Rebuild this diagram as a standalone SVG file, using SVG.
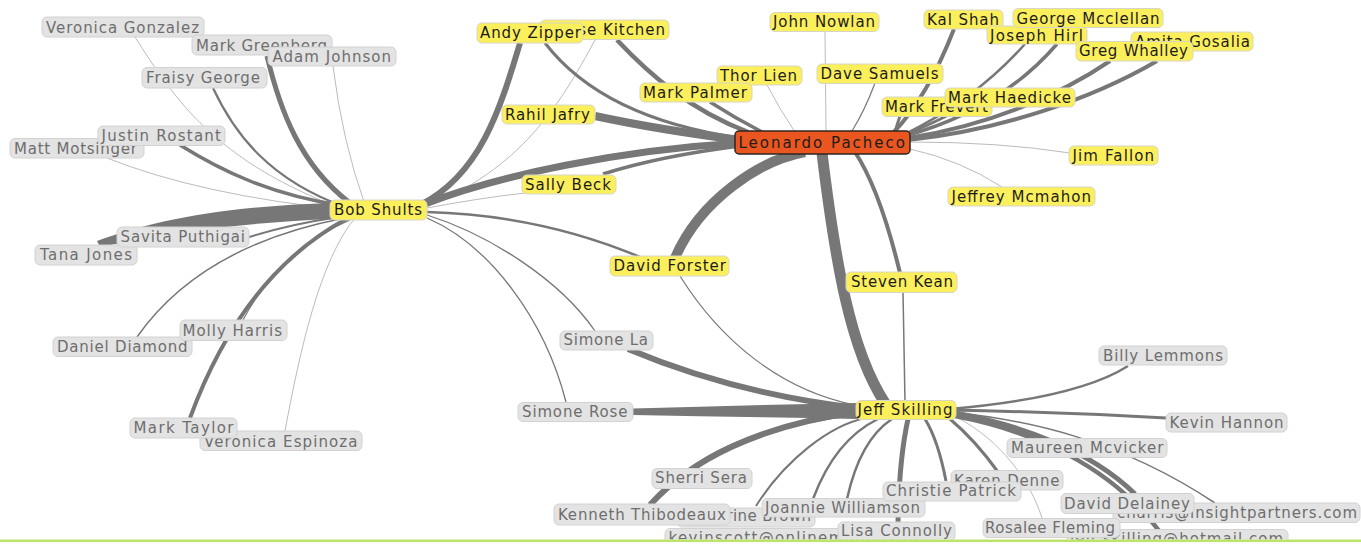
<svg xmlns="http://www.w3.org/2000/svg" width="1361" height="544" viewBox="0 0 1361 544">
<defs>
<clipPath id="cv"><rect x="0" y="0" width="1361" height="539.5"/></clipPath>
<style>
.e{fill:none;stroke:#777;stroke-linecap:butt}
.th{fill:none;stroke:#aaa;stroke-width:0.8}
.w{fill:#777;stroke:none}
.y{fill:#fcef5c;stroke:#d6d6c8;stroke-width:1}
.g{fill:#e3e3e3;stroke:#d2d2d2;stroke-width:1}
.o{fill:#e9561f;stroke:#2e2620;stroke-width:1.5}
text{font-family:"DejaVu Sans","Liberation Sans",sans-serif;font-size:15px}
.ty{fill:#1c1c1c}
.tg{fill:#6e6e6e}
</style>
</defs>
<rect x="0" y="0" width="1361" height="544" fill="#ffffff"/>
<g clip-path="url(#cv)">
<g id="connectors">
<!-- Bob Shults left side -->
<path class="th" d="M135,37 C175,100 215,160 340,208"/>
<path class="e" stroke-width="2.2" d="M213,88 C235,135 270,180 345,207"/>
<path class="e" stroke-width="5" d="M267,56 C280,110 300,165 350,203"/>
<path class="th" d="M333,66 Q342,140 365,205"/>
<path class="e" stroke-width="3.5" d="M180,145 C220,170 270,195 345,206"/>
<path class="th" d="M107,158 Q200,195 345,210"/>
<path class="w" d="M97,241 C150,222 220,206 335,203 L335,219 C250,222 170,232 100,247 Z"/>
<path class="e" stroke-width="2" d="M246,238 Q290,224 340,217"/>
<path class="e" stroke-width="1.5" d="M137,337 C170,290 230,240 345,218"/>
<path class="e" stroke-width="4" d="M190,418 C215,350 260,265 348,218"/>
<path class="e" stroke-width="1.2" stroke="#999" d="M243,320 Q280,250 352,219"/>
<path class="th" d="M285,431 C300,350 320,260 355,218"/>
<!-- Bob Shults right side -->
<path class="e" stroke-width="6" d="M520,43 C500,110 480,175 420,205"/>
<path class="th" d="M595,40 C560,105 520,170 425,207"/>
<path class="e" stroke-width="7" d="M425,204 C500,175 620,150 740,143"/>
<path class="th" d="M427,208 Q480,198 525,193"/>
<path class="e" stroke-width="2.5" d="M427,212 Q540,215 640,257"/>
<path class="e" stroke-width="1.3" d="M427,215 C490,235 560,280 595,331"/>
<path class="e" stroke-width="1.3" d="M427,218 C490,245 545,320 566,402"/>
<!-- Leonardo Pacheco -->
<path class="e" stroke-width="8" d="M595,116 Q660,130 740,140"/>
<path class="e" stroke-width="3.5" d="M603,174 Q660,156 740,146"/>
<path class="e" stroke-width="3" d="M545,43 C585,95 650,125 740,138"/>
<path class="e" stroke-width="4.5" d="M617,40 C650,75 690,110 748,132"/>
<path class="e" stroke-width="3.5" d="M710,102 Q735,118 762,132"/>
<path class="th" d="M767,85 Q780,110 795,132"/>
<path class="th" d="M825,32 L826,131"/>
<path class="e" stroke-width="1.2" d="M875,83 Q865,110 852,131"/>
<path class="e" stroke-width="4" d="M954,29 C940,65 920,105 893,133"/>
<path class="e" stroke-width="2.5" d="M1025,44 Q975,100 905,134"/>
<path class="e" stroke-width="3.5" d="M1057,44 Q1000,110 905,136"/>
<path class="e" stroke-width="4" d="M1110,61 C1060,95 990,125 908,138"/>
<path class="e" stroke-width="4" d="M1157,61 C1090,100 1000,130 908,140"/>
<path class="e" stroke-width="3" d="M965,107 Q935,122 906,135"/>
<path class="e" stroke-width="3" d="M900,116 Q897,125 895,132"/>
<path class="th" d="M1070,153 Q1000,142 910,142"/>
<path class="th" d="M1002,187 Q960,160 910,149"/>
<path class="e" stroke-width="10" d="M805,152 C760,160 700,200 675,258"/>
<path class="e" stroke-width="11" d="M822,153 C835,260 850,350 885,403"/>
<path class="e" stroke-width="4" d="M855,152 Q880,190 900,273"/>
<path class="e" stroke-width="1.5" d="M903,292 L905,402"/>
<!-- Jeff Skilling -->
<path class="e" stroke-width="1.2" d="M680,276 C720,340 780,390 855,405"/>
<path class="e" stroke-width="6" d="M628,349 C690,375 770,398 858,408"/>
<path class="w" d="M633,408.5 Q750,405 858,403 L858,419 Q750,417 633,415 Z"/>
<path class="e" stroke-width="6" d="M650,505 C690,460 760,425 858,412"/>
<path class="e" stroke-width="3" d="M690,470 C720,445 780,423 858,414"/>
<path class="e" stroke-width="2" d="M756,506 C785,460 830,425 866,418"/>
<path class="e" stroke-width="2.5" d="M813,499 Q835,440 878,419"/>
<path class="e" stroke-width="2.5" d="M847,499 Q860,440 892,419"/>
<path class="e" stroke-width="5" d="M908,419 Q899,460 898,523"/>
<path class="e" stroke-width="3" d="M946,481 Q938,440 925,419"/>
<path class="e" stroke-width="3" d="M998,472 Q975,440 950,419"/>
<path class="th" d="M958,418 C1000,440 1030,480 1042,518"/>
<path class="e" stroke-width="2.5" d="M1128,366 C1090,390 1020,403 950,409"/>
<path class="e" stroke-width="3" d="M950,410 Q1060,412 1166,418"/>
<path class="e" stroke-width="1.5" d="M950,412 C1030,420 1120,440 1215,503"/>
<path class="e" stroke-width="5" d="M955,413 C1020,425 1090,450 1135,494"/>
<path class="e" stroke-width="4.5" d="M955,416 C1030,430 1110,465 1160,532"/>
</g>
<g id="n-matt-motsinger"><rect class="g" x="10" y="138.5" width="134" height="19.5" rx="5"/><text class="tg" x="14" y="154" textLength="123">Matt Motsinger</text></g>
<g id="n-justin-rostant"><rect class="g" x="98" y="126" width="127" height="19.5" rx="5"/><text class="tg" x="101.5" y="141" textLength="119.5">Justin Rostant</text></g>
<g id="n-veronica-gonzalez"><rect class="g" x="42" y="17" width="162" height="20" rx="5"/><text class="tg" x="46" y="33" textLength="153">Veronica Gonzalez</text></g>
<g id="n-mark-greenberg"><rect class="g" x="192" y="35" width="140" height="20" rx="5"/><text class="tg" x="196" y="51" textLength="131">Mark Greenberg</text></g>
<g id="n-adam-johnson"><rect class="g" x="268" y="47" width="128" height="19" rx="5"/><text class="tg" x="272.5" y="61.5" textLength="118.5">Adam Johnson</text></g>
<g id="n-fraisy-george"><rect class="g" x="142" y="67.5" width="125" height="20.5" rx="5"/><text class="tg" x="146" y="83" textLength="114">Fraisy George</text></g>
<g id="n-tana-jones"><rect class="g" x="35" y="245" width="102" height="20" rx="5"/><text class="tg" x="40" y="260" textLength="92">Tana Jones</text></g>
<g id="n-savita-puthigai"><rect class="g" x="117" y="227" width="132" height="20" rx="5"/><text class="tg" x="120.5" y="242" textLength="124.5">Savita Puthigai</text></g>
<g id="n-daniel-diamond"><rect class="g" x="53" y="337" width="139" height="19.5" rx="5"/><text class="tg" x="57" y="352" textLength="130.5">Daniel Diamond</text></g>
<g id="n-molly-harris"><rect class="g" x="180" y="320" width="107" height="20.5" rx="5"/><text class="tg" x="182.5" y="335.5" textLength="99.5">Molly Harris</text></g>
<g id="n-veronica-espinoza"><rect class="g" x="200" y="431" width="162" height="19.5" rx="5"/><text class="tg" x="204" y="446.5" textLength="153.5">Veronica Espinoza</text></g>
<g id="n-mark-taylor"><rect class="g" x="130" y="418" width="107" height="20" rx="5"/><text class="tg" x="133.5" y="433" textLength="100">Mark Taylor</text></g>
<g id="n-bob-shults"><rect class="y" x="330" y="200" width="97" height="20" rx="5"/><text class="ty" x="334" y="215" textLength="88">Bob Shults</text></g>
<g id="n-louise-kitchen"><rect class="y" x="540" y="20" width="129" height="19.5" rx="5"/><text class="ty" x="543.5" y="35" textLength="121.5">Louise Kitchen</text></g>
<g id="n-andy-zipper"><rect class="y" x="477" y="23" width="106" height="20" rx="5"/><text class="ty" x="480" y="38" textLength="101">Andy Zipper</text></g>
<g id="n-rahil-jafry"><rect class="y" x="502" y="105" width="93" height="19" rx="5"/><text class="ty" x="505" y="120" textLength="85">Rahil Jafry</text></g>
<g id="n-sally-beck"><rect class="y" x="522" y="175" width="94" height="19" rx="5"/><text class="ty" x="525" y="190" textLength="86">Sally Beck</text></g>
<g id="n-thor-lien"><rect class="y" x="717" y="66" width="85" height="19" rx="5"/><text class="ty" x="720" y="80.5" textLength="77">Thor Lien</text></g>
<g id="n-mark-palmer"><rect class="y" x="640" y="83" width="112" height="19" rx="5"/><text class="ty" x="643" y="97.5" textLength="104">Mark Palmer</text></g>
<g id="n-john-nowlan"><rect class="y" x="770" y="12.5" width="109" height="19" rx="5"/><text class="ty" x="773" y="27" textLength="102">John Nowlan</text></g>
<g id="n-dave-samuels"><rect class="y" x="817" y="64" width="126" height="19.5" rx="5"/><text class="ty" x="820.5" y="79" textLength="118">Dave Samuels</text></g>
<g id="n-kal-shah"><rect class="y" x="924" y="10" width="79" height="19" rx="5"/><text class="ty" x="927" y="25" textLength="72">Kal Shah</text></g>
<g id="n-joseph-hirl"><rect class="y" x="987" y="26" width="100" height="18" rx="5"/><text class="ty" x="990" y="40.5" textLength="93">Joseph Hirl</text></g>
<g id="n-george-mcclellan"><rect class="y" x="1013" y="8.5" width="150" height="19" rx="5"/><text class="ty" x="1016.5" y="24" textLength="143">George Mcclellan</text></g>
<g id="n-amita-gosalia"><rect class="y" x="1131" y="32" width="122" height="19" rx="5"/><text class="ty" x="1135" y="46.5" textLength="115">Amita Gosalia</text></g>
<g id="n-greg-whalley"><rect class="y" x="1076" y="41.5" width="117" height="19.5" rx="5"/><text class="ty" x="1079" y="56" textLength="109">Greg Whalley</text></g>
<g id="n-mark-frevert"><rect class="y" x="882" y="97" width="110" height="19.5" rx="5"/><text class="ty" x="885" y="111.5" textLength="103">Mark Frevert</text></g>
<g id="n-mark-haedicke"><rect class="y" x="945" y="88" width="130" height="19" rx="5"/><text class="ty" x="948" y="102.5" textLength="123">Mark Haedicke</text></g>
<g id="n-leonardo-pacheco"><rect class="o" x="735" y="131" width="175" height="23" rx="4"/><text class="ty" x="738.5" y="148" textLength="166.5">Leonardo Pacheco</text></g>
<g id="n-jim-fallon"><rect class="y" x="1069" y="146" width="89" height="19" rx="5"/><text class="ty" x="1072.5" y="160.5" textLength="81.5">Jim Fallon</text></g>
<g id="n-jeffrey-mcmahon"><rect class="y" x="948" y="187" width="147" height="19" rx="5"/><text class="ty" x="951.5" y="201.5" textLength="139.5">Jeffrey Mcmahon</text></g>
<g id="n-david-forster"><rect class="y" x="610" y="256" width="119" height="20" rx="5"/><text class="ty" x="613.5" y="270.5" textLength="112.5">David Forster</text></g>
<g id="n-steven-kean"><rect class="y" x="846" y="272" width="111" height="20.5" rx="5"/><text class="ty" x="851" y="287" textLength="102">Steven Kean</text></g>
<g id="n-simone-la"><rect class="g" x="560" y="331" width="93" height="19" rx="5"/><text class="tg" x="563.5" y="345" textLength="84.5">Simone La</text></g>
<g id="n-simone-rose"><rect class="g" x="518" y="402.5" width="115" height="19" rx="5"/><text class="tg" x="522" y="416.5" textLength="105.5">Simone Rose</text></g>
<g id="n-jeff-skilling"><rect class="y" x="856" y="400.5" width="100" height="19" rx="5"/><text class="ty" x="857.5" y="415" textLength="95">Jeff Skilling</text></g>
<g id="n-sherri-sera"><rect class="g" x="652" y="468.5" width="100" height="20" rx="5"/><text class="tg" x="655" y="483" textLength="92">Sherri Sera</text></g>
<g id="n-katherine-brown"><rect class="g" x="677" y="508" width="138" height="19" rx="5"/><text class="tg" x="681" y="521" textLength="130">Katherine Brown</text></g>
<g id="n-kenneth-thibodeaux"><rect class="g" x="554" y="504" width="176" height="21" rx="5"/><text class="tg" x="558" y="520" textLength="168">Kenneth Thibodeaux</text></g>
<g id="n-joannie-williamson"><rect class="g" x="762" y="498.5" width="163" height="18.5" rx="5"/><text class="tg" x="765" y="512.5" textLength="155">Joannie Williamson</text></g>
<g id="n-kevinscott"><rect class="g" x="665" y="528.5" width="270" height="19.5" rx="5"/><text class="tg" x="668.5" y="542.5" textLength="262">kevinscott@onlinemailbox.net</text></g>
<g id="n-lisa-connolly"><rect class="g" x="838" y="522" width="117" height="19" rx="5"/><text class="tg" x="841" y="536" textLength="111">Lisa Connolly</text></g>
<g id="n-karen-denne"><rect class="g" x="951" y="470.5" width="112" height="19.5" rx="5"/><text class="tg" x="954" y="486" textLength="105.5">Karen Denne</text></g>
<g id="n-christie-patrick"><rect class="g" x="883" y="482" width="138" height="19" rx="5"/><text class="tg" x="886" y="496" textLength="130">Christie Patrick</text></g>
<g id="n-maureen-mcvicker"><rect class="g" x="1007" y="438.5" width="160" height="19" rx="5"/><text class="tg" x="1011" y="453" textLength="152.5">Maureen Mcvicker</text></g>
<g id="n-billy-lemmons"><rect class="g" x="1099" y="346" width="128" height="19" rx="5"/><text class="tg" x="1103" y="361" textLength="120">Billy Lemmons</text></g>
<g id="n-kevin-hannon"><rect class="g" x="1166" y="413" width="121" height="19" rx="5"/><text class="tg" x="1169.5" y="427.5" textLength="114">Kevin Hannon</text></g>
<g id="n-charris"><rect class="g" x="1113" y="503" width="247" height="19.5" rx="5"/><text class="tg" x="1117" y="518" textLength="240">charris@insightpartners.com</text></g>
<g id="n-david-delainey"><rect class="g" x="1061" y="493.5" width="133" height="20" rx="5"/><text class="tg" x="1064" y="509" textLength="126">David Delainey</text></g>
<g id="n-jeff-skilling-hotmail"><rect class="g" x="1067" y="529.5" width="221" height="19.5" rx="5"/><text class="tg" x="1070" y="544" textLength="213">jeff.skilling@hotmail.com</text></g>
<g id="n-rosalee-fleming"><rect class="g" x="983" y="518.5" width="137" height="19" rx="5"/><text class="tg" x="985" y="533" textLength="130">Rosalee Fleming</text></g>
</g>
<rect x="0" y="539.5" width="1361" height="2.5" fill="#bde36b"/>
</svg>
